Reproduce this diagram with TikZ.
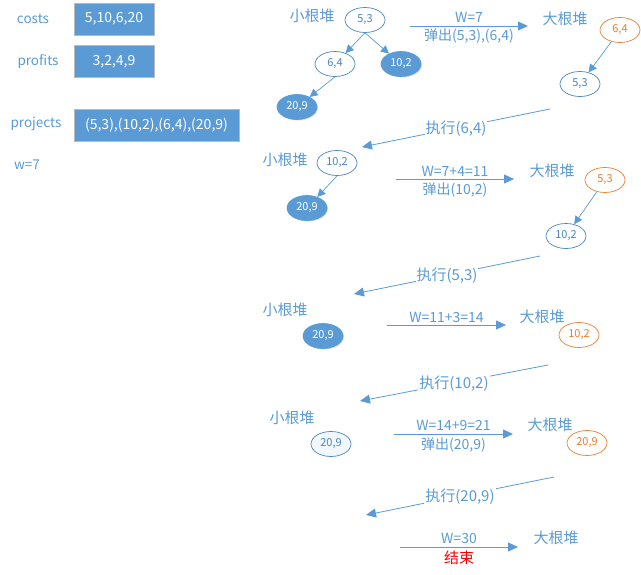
\documentclass[tikz,border=0pt]{standalone}
\usepackage{fontspec}
\setmainfont{Noto Sans CJK SC}
\usetikzlibrary{arrows.meta,shapes.geometric,shadows}
\definecolor{ob}{HTML}{5B9BD5}
\definecolor{obd}{HTML}{4A86C0}
\definecolor{oo}{HTML}{ED7D31}
\tikzset{
  lbl/.style={text=ob, font=\fontsize{13.5}{16}\selectfont, inner sep=0pt},
  hname/.style={text=ob, font=\fontsize{15}{17}\selectfont, inner sep=0pt},
  hp/.style={ellipse, draw=obd, fill=white, text=obd, minimum width=40pt, minimum height=25pt, inner sep=0pt, line width=0.7pt, font=\fontsize{11}{13}\selectfont},
  hpf/.style={hp, fill=ob, text=white, draw=ob, drop shadow={shadow xshift=1pt, shadow yshift=-1pt, opacity=0.25}},
  hpo/.style={hp, draw=oo, text=oo},
  hpl/.style={hp, fill=ob!8},
  databox/.style={rectangle, fill=ob, draw=gray!55, line width=0.8pt, text=white, inner sep=0pt, minimum height=32pt, font=\fontsize{14}{16}\selectfont, drop shadow={shadow xshift=1pt, shadow yshift=-1pt, opacity=0.25}},
  arr/.style={draw=ob, line width=0.8pt, -{Triangle[length=10pt,width=9pt]}},
  tarr/.style={draw=ob, line width=0.7pt, -{Triangle[length=8pt,width=8pt]}},
  alab/.style={text=ob, font=\fontsize{14}{16}\selectfont, inner sep=1pt},
  xlab/.style={text=ob, fill=white, font=\fontsize{15}{17}\selectfont, inner sep=1pt},
}
\begin{document}
\begin{tikzpicture}[x=1pt,y=-1pt]
\path[use as bounding box, fill=white] (0,0) rectangle (641,575);

% left data
\node[lbl] (costs) at (33,19) {costs};
\node[databox, minimum width=80pt] (cbox) at (114,19) {5,10,6,20};
\node[lbl] (profits) at (38,62) {profits};
\node[databox, minimum width=80pt] (pbox) at (114,61.5) {3,2,4,9};
\node[lbl] (projects) at (36,124) {projects};
\node[databox, minimum width=165pt] (prbox) at (156.5,125.5) {(5,3),(10,2),(6,4),(20,9)};
\node[lbl] (w) at (27,165) {w=7};

% stage 1
\node[hname] (s1) at (312,16) {小根堆};
\node[hp] (a53) at (365,20) {5,3};
\node[hp] (a64) at (335,64) {6,4};
\node[hpf] (a102) at (401,64) {10,2};
\node[hpf] (a209) at (297,107) {20,9};
\draw[tarr] (a53.south) -- (a64);
\draw[tarr] (a53.south) -- (a102);
\draw[tarr] (a64.south) -- (a209);
\coordinate (h1s) at (410,26);
\coordinate (h1e) at (528,26);
\draw[arr] (h1s) -- (h1e) node[midway,above=2.5pt,alab]{W=7} node[midway,below=1.5pt,alab]{弹出(5,3),(6,4)};
\node[hname] (b1) at (565,19) {大根堆};
\node[hpo] (b64) at (620,30) {6,4};
\node[hp] (b53) at (580,84) {5,3};
\draw[tarr] (b64) -- (b53);
\coordinate (x1s) at (550,109);
\coordinate (x1e) at (362,147);
\draw[arr] (x1s) -- (x1e) node[pos=0.5,xlab,yshift=-1pt]{执行(6,4)};

% stage 2
\node[hname] (s2) at (285,160) {小根堆};
\node[hp] (c102) at (337,163) {10,2};
\node[hpf] (c209) at (307,208) {20,9};
\draw[tarr] (c102.south) -- (c209);
\coordinate (h2s) at (396,179);
\coordinate (h2e) at (514,179);
\draw[arr] (h2s) -- (h2e) node[midway,above=1.5pt,alab]{W=7+4=11} node[midway,below=2pt,alab]{弹出(10,2)};
\node[hname] (b2) at (552,171) {大根堆};
\node[hpo] (d53) at (605,180) {5,3};
\node[hp] (d102) at (566,236) {10,2};
\draw[tarr] (d53) -- (d102);
\coordinate (x2s) at (540,256);
\coordinate (x2e) at (354,294);
\draw[arr] (x2s) -- (x2e) node[pos=0.5,xlab,yshift=-1pt]{执行(5,3)};

% stage 3
\node[hname] (s3) at (285,310) {小根堆};
\node[hpf] (e209) at (323,336) {20,9};
\coordinate (h3s) at (387,325);
\coordinate (h3e) at (506,325);
\draw[arr] (h3s) -- (h3e) node[midway,above=0.5pt,alab]{W=11+3=14};
\node[hname] (b3) at (542,317) {大根堆};
\node[hpo] (f102) at (579,335) {10,2};
\coordinate (x3s) at (548,365);
\coordinate (x3e) at (360,401);
\draw[arr] (x3s) -- (x3e) node[pos=0.5,xlab,yshift=-1pt]{执行(10,2)};

% stage 4
\node[hname] (s4) at (292,418) {小根堆};
\node[hpl] (g209) at (331,444) {20,9};
\coordinate (h4s) at (394,434);
\coordinate (h4e) at (513,434);
\draw[arr] (h4s) -- (h4e) node[midway,above=1.5pt,alab]{W=14+9=21} node[midway,below=2pt,alab]{弹出(20,9)};
\node[hname] (b4) at (550,425) {大根堆};
\node[hpo] (h209) at (587,443) {20,9};
\coordinate (x4s) at (554,477);
\coordinate (x4e) at (366,515);
\draw[arr] (x4s) -- (x4e) node[pos=0.5,xlab,yshift=-1pt]{执行(20,9)};

% stage 5
\coordinate (h5s) at (400,547);
\coordinate (h5e) at (518,547);
\draw[arr] (h5s) -- (h5e) node[midway,above=1.5pt,alab]{W=30} node[midway,below=2pt,alab,text=red,font=\fontsize{15}{17}\selectfont]{结束};
\node[hname] (b5) at (556,538) {大根堆};
\end{tikzpicture}
\end{document}
